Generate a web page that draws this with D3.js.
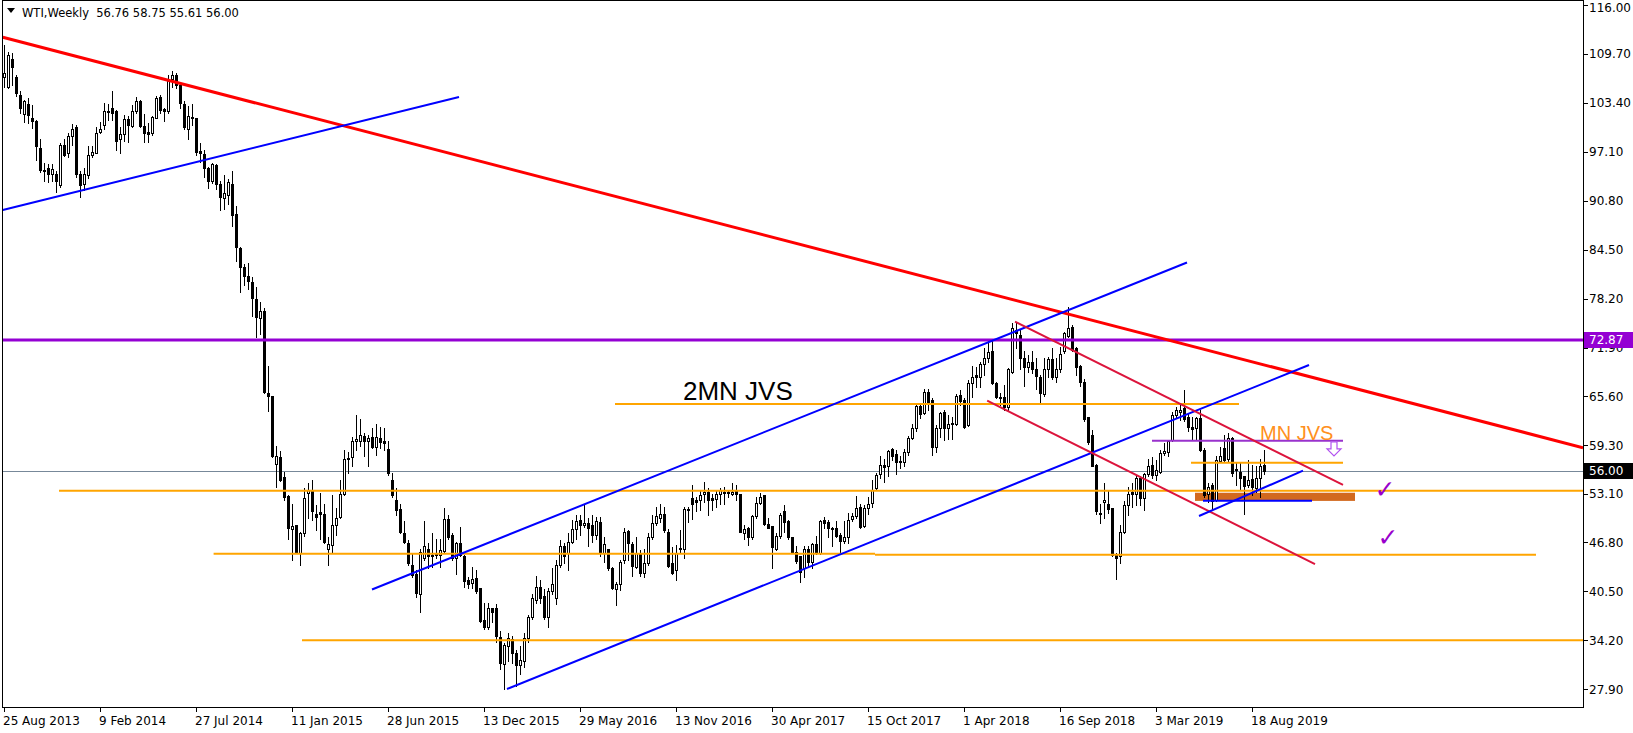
<!DOCTYPE html>
<html><head><meta charset="utf-8">
<script src="https://cdn.jsdelivr.net/npm/d3@7"></script>
<style>
body{margin:0;background:#fff;}
svg{display:block;}
text{white-space:pre;}
</style>
</head><body>
<svg id="chart" width="1633" height="733"></svg>
<script>
// ---------- DATA (weekly WTI, 25 Aug 2013 .. 8 Sep 2019) ----------
const open = [
106.7,105.4,109.1,106.7,104.4,102.0,103.3,101.5,101.1,97.6,
94.8,95.0,94.3,94.3,92.8,98.0,97.0,99.1,100.3,94.3,
93.0,94.1,96.7,97.0,99.6,100.6,102.2,102.8,102.4,98.8,
99.4,101.3,100.4,102.4,103.7,100.4,99.6,99.5,101.5,104.2,
102.6,102.3,106.5,107.0,105.7,103.3,100.0,101.6,101.4,97.2,
96.8,95.0,93.3,95.4,93.0,91.1,91.5,92.9,89.1,84.7,
82.3,81.1,80.4,78.2,75.7,76.6,66.0,65.6,56.9,57.8,
55.2,52.8,48.5,49.0,45.4,48.0,53.2,53.6,50.5,50.7,
50.5,46.0,46.5,49.0,50.1,53.1,57.6,57.8,59.8,59.9,
60.5,59.9,60.4,59.1,60.2,59.8,58.8,54.8,52.3,51.1,
48.0,46.7,43.9,42.7,40.2,44.8,46.0,45.0,45.5,45.2,
45.7,49.8,47.8,44.8,46.7,45.1,42.0,41.6,42.2,40.9,
36.8,35.9,38.3,38.3,34.6,31.2,33.5,34.4,32.5,31.0,
31.5,34.5,37.2,39.4,41.0,39.9,37.2,40.6,39.6,43.9,
46.3,45.5,46.8,48.5,49.7,49.0,49.3,49.0,47.7,49.4,
45.5,45.9,43.5,40.8,41.5,44.5,48.3,46.6,43.7,45.3,
42.9,44.1,47.5,49.3,50.0,50.5,48.1,44.2,43.2,46.0,
46.0,51.0,52.5,52.3,52.3,53.1,53.3,52.5,52.4,53.1,
53.2,53.2,53.1,53.6,53.0,48.0,48.6,47.5,50.2,51.9,
52.9,49.2,48.9,46.0,47.6,50.8,49.5,47.5,45.6,45.0,
43.5,46.0,44.3,46.6,45.5,49.7,49.4,48.7,48.6,47.8,
47.0,47.5,49.8,50.2,51.3,48.9,51.2,51.9,53.8,55.6,
56.8,56.7,58.8,58.2,57.3,57.2,58.4,60.2,61.5,64.4,
63.5,66.2,65.1,59.1,61.5,63.6,61.5,62.1,62.1,65.8,
65.1,61.9,67.3,68.3,68.1,69.8,70.5,71.5,67.3,65.5,
65.5,64.2,68.8,74.2,73.5,70.5,69.4,70.0,69.2,68.1,
65.9,69.1,70.4,68.1,69.1,71.4,73.4,74.5,71.9,69.5,
67.4,63.0,60.6,56.8,50.6,52.0,51.8,51.2,45.2,45.0,
48.1,51.6,53.3,53.1,55.1,52.5,55.6,56.8,55.5,55.9,
58.3,58.5,60.0,63.2,63.6,64.1,62.9,61.7,61.5,62.8,
58.7,53.0,54.2,52.3,57.3,59.0,57.6,60.2,56.1,55.9,
55.3,54.2,55.0,53.8,55.1,56.76];
const high = [
110.9,110.0,109.8,107.0,104.9,103.8,104.0,103.1,101.2,98.8,
95.7,95.6,95.6,94.6,98.2,98.8,99.5,100.7,100.6,94.6,
95.0,97.8,97.8,100.3,101.0,103.4,103.3,104.9,102.5,100.3,
101.9,101.7,103.1,104.2,103.8,102.0,100.8,101.7,104.3,104.4,
102.8,107.0,107.5,107.2,105.8,103.6,103.0,103.3,101.5,98.2,
97.4,95.1,95.7,95.5,93.3,94.1,93.6,94.6,90.1,84.8,
82.7,82.8,81.0,79.7,77.8,77.0,69.5,65.7,59.2,58.6,
55.9,52.9,51.8,49.1,48.1,53.8,54.5,54.9,51.6,53.2,
51.8,47.5,52.9,51.2,54.8,58.7,58.5,60.4,63.2,62.7,
60.9,60.6,61.6,62.1,61.7,61.5,59.8,55.7,53.8,51.8,
49.5,47.1,45.4,43.3,46.0,49.6,46.7,48.0,47.2,47.3,
51.2,50.3,48.0,46.9,48.8,45.2,42.4,43.7,43.3,40.9,
39.0,39.0,38.3,38.9,35.4,33.9,35.2,34.7,32.9,33.4,
35.1,37.4,40.2,42.5,42.0,40.8,40.9,43.5,44.5,47.1,
46.7,48.0,49.7,50.3,50.3,51.8,49.9,50.3,50.1,50.1,
47.5,46.0,43.7,41.7,44.5,48.6,48.4,46.9,47.5,45.8,
45.9,48.0,50.3,51.3,51.8,51.4,48.5,46.2,46.5,48.4,
51.4,51.4,54.2,52.7,53.5,54.6,53.8,53.1,53.5,53.8,
54.0,53.5,54.5,54.2,53.1,49.0,48.8,50.3,52.7,53.2,
52.9,49.9,48.9,48.0,50.6,51.6,49.7,47.5,46.3,45.0,
46.3,46.3,46.7,47.6,49.7,50.1,49.7,48.8,49.5,48.0,
49.5,50.6,50.6,52.8,51.8,51.6,52.7,54.8,55.7,57.9,
57.6,58.7,58.9,58.7,57.9,58.8,60.5,62.1,64.7,64.7,
66.6,66.6,65.4,61.9,63.6,63.9,63.2,63.0,65.9,66.4,
65.4,67.7,69.5,69.4,70.1,71.8,72.7,72.8,67.4,66.1,
67.1,69.3,75.0,75.2,74.2,71.4,70.9,71.4,70.6,68.4,
70.5,70.7,71.8,70.5,72.0,73.9,77.1,74.8,72.0,69.7,
67.8,63.0,61.3,56.9,51.8,54.5,53.6,51.2,45.4,49.1,
52.2,53.9,54.4,55.4,55.4,55.8,57.6,57.8,57.4,58.7,
59.6,60.0,63.6,64.3,64.7,66.4,63.4,63.0,63.0,63.8,
58.9,54.4,54.4,57.9,59.1,60.6,60.9,60.4,57.2,57.2,
55.4,57.4,56.8,56.6,57.6,58.75];
const low = [
105.4,105.3,105.7,104.3,102.1,100.9,100.8,100.2,96.0,94.5,
93.3,93.2,93.3,91.9,92.6,96.6,96.5,98.0,93.9,91.3,
92.2,93.7,96.5,96.9,99.5,100.1,101.2,101.2,97.3,97.0,
98.5,98.4,100.3,102.1,100.3,98.4,98.4,99.3,101.4,102.1,
101.1,102.1,105.5,105.3,102.7,100.0,98.7,100.6,96.7,95.8,
93.9,92.4,93.1,92.3,89.6,89.8,90.4,87.6,83.0,79.1,
80.0,79.5,75.9,73.2,73.7,66.0,63.7,57.8,53.9,54.7,
52.3,47.2,44.6,45.4,43.9,47.6,49.9,49.7,48.4,47.2,
46.7,43.9,45.4,47.8,50.0,52.9,55.8,56.6,58.7,59.2,
57.9,56.6,58.9,58.1,58.9,58.7,55.5,52.7,50.3,48.0,
46.7,43.9,42.4,39.8,37.8,44.6,43.5,43.7,44.8,43.7,
45.6,47.3,44.5,42.8,45.0,41.1,40.9,40.9,40.3,36.6,
35.6,35.7,36.6,34.0,30.5,27.9,31.5,31.3,28.3,29.9,
30.7,34.0,37.0,39.0,39.0,37.0,35.9,40.2,38.9,43.7,
44.1,43.3,46.7,47.3,47.8,48.8,46.3,46.8,47.3,45.1,
44.3,43.3,40.8,38.7,40.7,44.2,44.5,42.5,43.5,42.5,
42.3,43.9,47.2,49.0,49.4,48.2,43.7,42.8,42.0,45.4,
44.8,49.4,49.8,50.8,51.0,52.0,50.3,51.0,51.4,51.8,
51.8,52.7,52.9,52.3,48.1,47.2,46.5,47.3,50.0,51.8,
49.0,48.6,43.5,45.8,47.4,48.2,47.2,45.4,44.1,41.7,
42.4,43.6,43.5,45.3,45.3,48.6,47.5,46.3,47.5,45.6,
46.7,46.7,49.6,50.0,48.7,48.8,50.5,51.3,53.6,55.1,
54.6,55.4,57.4,55.6,56.4,56.7,58.1,60.1,61.2,62.8,
63.4,63.8,58.1,58.4,60.4,60.0,60.1,60.1,61.9,64.5,
61.6,61.8,65.5,66.8,66.8,68.4,70.1,67.2,65.4,64.5,
63.9,63.9,68.6,71.8,69.2,67.0,68.8,68.6,66.5,64.7,
65.7,68.1,67.9,67.4,68.8,71.2,73.3,71.4,68.4,66.9,
62.5,59.5,56.6,50.5,49.3,49.9,50.6,45.0,42.1,44.1,
48.0,50.3,51.4,51.6,51.6,51.0,55.3,55.1,54.8,55.7,
58.1,57.9,59.8,62.8,62.6,62.5,61.1,60.0,60.1,58.6,
52.7,52.0,51.0,52.1,57.2,57.2,57.2,55.4,54.2,53.6,
50.5,53.9,52.9,53.3,52.7,55.61];
const close = [
107.3,109.6,108.0,104.7,102.7,103.6,101.8,101.1,97.9,94.8,
94.6,94.3,94.9,93.4,98.0,96.7,99.1,100.1,94.3,92.8,
94.3,96.7,97.1,99.5,100.1,102.3,102.4,102.1,98.5,99.4,
101.3,100.6,102.4,103.7,100.4,99.5,99.4,101.6,104.1,102.5,
102.3,106.4,107.0,105.7,103.4,100.3,101.7,101.5,97.1,96.9,
95.0,93.4,95.5,93.0,91.3,91.8,93.2,89.0,84.9,82.3,
81.1,80.5,78.3,75.8,76.6,66.2,65.7,57.9,57.9,54.9,
52.7,48.6,48.9,45.5,48.0,52.5,53.6,50.8,50.1,50.5,
46.9,46.6,49.0,50.0,53.1,57.6,57.7,59.9,60.1,60.6,
59.9,60.2,59.1,60.4,59.7,59.6,55.7,52.9,51.0,48.2,
46.9,44.1,42.6,40.3,45.6,46.3,45.0,45.2,45.2,45.8,
49.8,47.5,44.8,46.7,45.2,41.8,41.5,42.1,40.6,36.7,
35.9,38.3,37.9,34.7,31.3,33.6,34.5,32.6,31.0,31.6,
34.5,37.2,39.7,41.0,39.7,37.2,40.5,41.5,43.9,46.3,
45.0,46.8,48.5,49.5,49.0,49.3,48.6,47.7,49.5,45.6,
46.6,43.5,40.9,41.4,44.3,48.2,46.7,43.8,45.5,42.9,
44.2,47.5,49.3,50.2,50.5,48.4,43.8,42.9,45.5,46.1,
51.1,51.1,51.8,52.0,52.9,53.3,52.3,52.3,53.1,53.6,
53.3,53.3,53.3,53.1,48.2,48.5,47.5,50.2,51.9,52.6,
49.2,48.7,46.2,47.6,50.3,49.4,47.5,45.6,44.4,43.0,
46.0,44.3,46.6,45.4,49.6,49.3,48.6,48.5,47.6,47.0,
47.5,49.7,50.2,51.2,48.8,51.2,51.8,53.5,55.5,56.8,
56.5,58.6,57.9,57.1,57.1,58.4,60.2,61.5,64.4,63.4,
66.2,64.9,59.1,61.5,63.5,61.5,62.1,62.2,65.7,65.0,
61.7,67.3,68.1,68.1,69.8,70.5,71.3,67.3,65.5,65.4,
64.2,69.2,74.4,73.8,70.5,69.4,70.0,69.2,68.2,66.0,
69.1,70.4,68.1,69.1,71.1,73.8,74.4,71.6,69.4,67.4,
62.7,59.7,56.7,50.8,50.5,52.3,51.1,45.2,44.8,48.1,
51.6,53.1,53.1,55.1,52.5,55.6,56.6,55.5,56.1,58.3,
58.6,59.8,63.2,63.8,63.9,62.7,61.7,61.4,62.8,58.7,
52.9,54.0,52.2,57.4,57.9,57.4,60.2,55.7,56.2,55.1,
54.1,54.8,53.9,55.1,56.6,56.00];

// time axis labels (bar index -> label)
const dateLabelBars = [0,24,48,72,96,120,144,168,192,216,240,264,288,312];
const dateLabels = ["25 Aug 2013","9 Feb 2014","27 Jul 2014","11 Jan 2015","28 Jun 2015","13 Dec 2015",
  "29 May 2016","13 Nov 2016","30 Apr 2017","15 Oct 2017","1 Apr 2018","16 Sep 2018","3 Mar 2019","18 Aug 2019"];
// price axis labels
const priceTicks = [116.00,109.70,103.40,97.10,90.80,84.50,78.20,71.90,65.60,59.30,53.10,46.80,40.50,34.20,27.90];
const lastPrice = 56.00;
const markedLevel = 72.87;
const header = {symbol:"WTI,Weekly", o:"56.76", h:"58.75", l:"55.61", c:"56.00"};

// drawn objects, endpoints as [bar index, price]
const redTrend      = [[-0.3,111.85],[394.75,59.0]];
const blueEarly     = [[-0.3,89.61],[113.75,104.17]];
const blueChanUpper = [[92,40.74],[295.75,82.85]];
const blueChanLower = [[125.75,27.93],[326.25,69.65]];
const crimsonUpper  = [[252.75,75.23],[334.75,54.2]];
const crimsonLower  = [[245.8,65.05],[327.75,44.02]];
const blueSmall     = [[298.75,50.2],[324.75,56.04]];
const blueFlat      = [[299.75,52.18],[327,52.18]];
const orangeLevels  = [
  [[13.75,53.46],[394.75,53.46]],
  [[52.4,45.35],[217.75,45.35]],
  [[217.75,45.22],[383,45.22]],
  [[74.5,34.22],[394.75,34.22]],
  [[152.75,64.63],[308.75,64.63]],
  [[296.75,57.07],[334.75,57.07]]
];
const purpleShort   = [[287,59.9],[334.75,59.9]];
const zoneBox       = [[297.75,53.2],[337.75,52.15]];
const label2MN      = {text:"2MN JVS", at:[169.75,65.14]};
const labelMN       = {text:"MN JVS", at:[314,59.99]};
const arrowAt       = [332.5,58.85];
const checks        = [[345.25,53.6],[346,47.5]];

// ---------- DRAWING ----------
const W = 1633, H = 733;
const plotL = 2, plotR = 1583, plotT = 0, plotB = 707;
const svg = d3.select("#chart");
const x = d3.scaleLinear().domain([0, 394.75]).range([4, 1583]);
const y = d3.scaleLinear().domain([27.9, 116]).range([689.2, 5.1]);
const axisFont = "'DejaVu Sans', Tahoma, sans-serif";

svg.append("rect").attr("width", W).attr("height", H).attr("fill", "#fff");
svg.append("defs").append("clipPath").attr("id", "clip")
  .append("rect").attr("x", plotL).attr("y", plotT).attr("width", plotR - plotL).attr("height", plotB - plotT);
const g = svg.append("g").attr("clip-path", "url(#clip)");

// zone rectangle (background object)
g.append("rect")
  .attr("x", x(zoneBox[0][0])).attr("y", y(zoneBox[0][1]))
  .attr("width", x(zoneBox[1][0]) - x(zoneBox[0][0]))
  .attr("height", y(zoneBox[1][1]) - y(zoneBox[0][1]))
  .attr("fill", "#D2691E");

// last price line
g.append("line").attr("x1", plotL).attr("x2", plotR)
  .attr("y1", Math.round(y(lastPrice)) + 0.5).attr("y2", Math.round(y(lastPrice)) + 0.5)
  .attr("stroke", "#778899").attr("stroke-width", 1);

// candles
const bars = d3.range(open.length);
const cg = g.append("g").attr("shape-rendering", "crispEdges");
cg.selectAll("line").data(bars).join("line")
  .attr("x1", i => Math.round(x(i)) + 0.5).attr("x2", i => Math.round(x(i)) + 0.5)
  .attr("y1", i => Math.round(y(high[i]))).attr("y2", i => Math.round(y(low[i])) + 1)
  .attr("stroke", "#000").attr("stroke-width", 1);
cg.selectAll("rect").data(bars).join("rect")
  .attr("x", i => Math.round(x(i)) - 0.5).attr("width", 2)
  .attr("y", i => Math.round(y(Math.max(open[i], close[i]))) + 0.5)
  .attr("height", i => Math.max(1, Math.round(y(Math.min(open[i], close[i]))) - Math.round(y(Math.max(open[i], close[i])))))
  .attr("fill", i => close[i] >= open[i] ? "#fff" : "#000")
  .attr("stroke", "#000").attr("stroke-width", 1);

// objects
const seg = d3.line().x(d => x(d[0])).y(d => y(d[1]));
function drawSeg(pts, color, width) {
  g.append("path").attr("d", seg(pts)).attr("fill", "none")
    .attr("stroke", color).attr("stroke-width", width);
}
orangeLevels.forEach(p => drawSeg(p, "#FFA500", 2));
drawSeg([[-1, markedLevel], [394.75, markedLevel]], "#9400D3", 3);
drawSeg(purpleShort, "#9932CC", 2);
drawSeg(redTrend, "#FF0000", 3);
drawSeg(blueEarly, "#0000FF", 2);
drawSeg(blueChanUpper, "#0000FF", 2);
drawSeg(blueChanLower, "#0000FF", 2);
drawSeg(crimsonUpper, "#DC143C", 2);
drawSeg(crimsonLower, "#DC143C", 2);
drawSeg(blueSmall, "#0000FF", 2);
drawSeg(blueFlat, "#0000FF", 2);

// texts
g.append("text").attr("x", x(label2MN.at[0])).attr("y", y(label2MN.at[1]))
  .attr("font-family", "'Liberation Sans', Arial, sans-serif").attr("font-size", 26)
  .attr("fill", "#000").text(label2MN.text);
g.append("text").attr("x", x(labelMN.at[0])).attr("y", y(labelMN.at[1]))
  .attr("font-family", "'Liberation Sans', Arial, sans-serif").attr("font-size", 20)
  .attr("fill", "#FF9020").text(labelMN.text);

// hollow down arrow
{
  const ax = x(arrowAt[0]), ay = y(arrowAt[1]);
  const pts = [[-3,-7],[3,-7],[3,0],[7,0],[0,7],[-7,0],[-3,0]];
  g.append("path").attr("d", "M" + pts.map(p => (ax + p[0]) + "," + (ay + p[1])).join("L") + "Z")
    .attr("fill", "#fff").attr("stroke", "#B050F0").attr("stroke-width", 1.2);
}
// check marks
g.selectAll("text.chk").data(checks).join("text").attr("class", "chk")
  .attr("x", d => x(d[0])).attr("y", d => y(d[1]))
  .attr("text-anchor", "middle").attr("dy", "0.35em")
  .attr("font-family", "'DejaVu Sans', sans-serif").attr("font-size", 25)
  .attr("fill", "#9900CC").text("\u2713");

// frame
svg.append("rect").attr("x", plotL + 0.5).attr("y", plotT + 0.5)
  .attr("width", plotR - plotL).attr("height", plotB - plotT)
  .attr("fill", "none").attr("stroke", "#000").attr("stroke-width", 1)
  .attr("shape-rendering", "crispEdges");

// right price axis
const ra = svg.append("g").attr("shape-rendering", "crispEdges");
ra.selectAll("line").data(priceTicks).join("line")
  .attr("x1", plotR + 0.5).attr("x2", plotR + 4.5)
  .attr("y1", d => Math.round(y(d)) + 0.5).attr("y2", d => Math.round(y(d)) + 0.5)
  .attr("stroke", "#000");
svg.selectAll("text.pt").data(priceTicks).join("text").attr("class", "pt")
  .attr("x", plotR + 6).attr("y", d => Math.max(y(d) + 4.3, 12))
  .attr("font-family", axisFont).attr("font-size", 12).attr("fill", "#000")
  .text(d => d.toFixed(2));

function priceTag(v, bg) {
  svg.append("rect").attr("x", plotR + 1).attr("y", Math.round(y(v)) - 8)
    .attr("width", W - plotR - 1).attr("height", 16).attr("fill", bg);
  svg.append("text").attr("x", plotR + 6).attr("y", y(v)).attr("dy", "0.36em")
    .attr("font-family", axisFont).attr("font-size", 12).attr("fill", "#fff")
    .text(v.toFixed(2));
}
priceTag(markedLevel, "#9400D3");
priceTag(lastPrice, "#000");

// bottom time axis
const ba = svg.append("g").attr("shape-rendering", "crispEdges");
ba.selectAll("line").data(dateLabelBars).join("line")
  .attr("x1", i => Math.round(x(i)) + 0.5).attr("x2", i => Math.round(x(i)) + 0.5)
  .attr("y1", plotB + 0.5).attr("y2", plotB + 5)
  .attr("stroke", "#000");
svg.selectAll("text.dt").data(dateLabelBars).join("text").attr("class", "dt")
  .attr("x", i => x(i) - 1).attr("y", plotB + 18)
  .attr("font-family", axisFont).attr("font-size", 12).attr("fill", "#000")
  .text((d, k) => dateLabels[k]);

// header
svg.append("path").attr("d", "M7,8L15,8L11,13Z").attr("fill", "#000");
svg.append("text").attr("x", 22).attr("y", 17)
  .attr("font-family", axisFont).attr("font-size", 11.5).attr("fill", "#000")
  .text(header.symbol + "  " + [header.o, header.h, header.l, header.c].join(" "));
</script>
</body></html>
